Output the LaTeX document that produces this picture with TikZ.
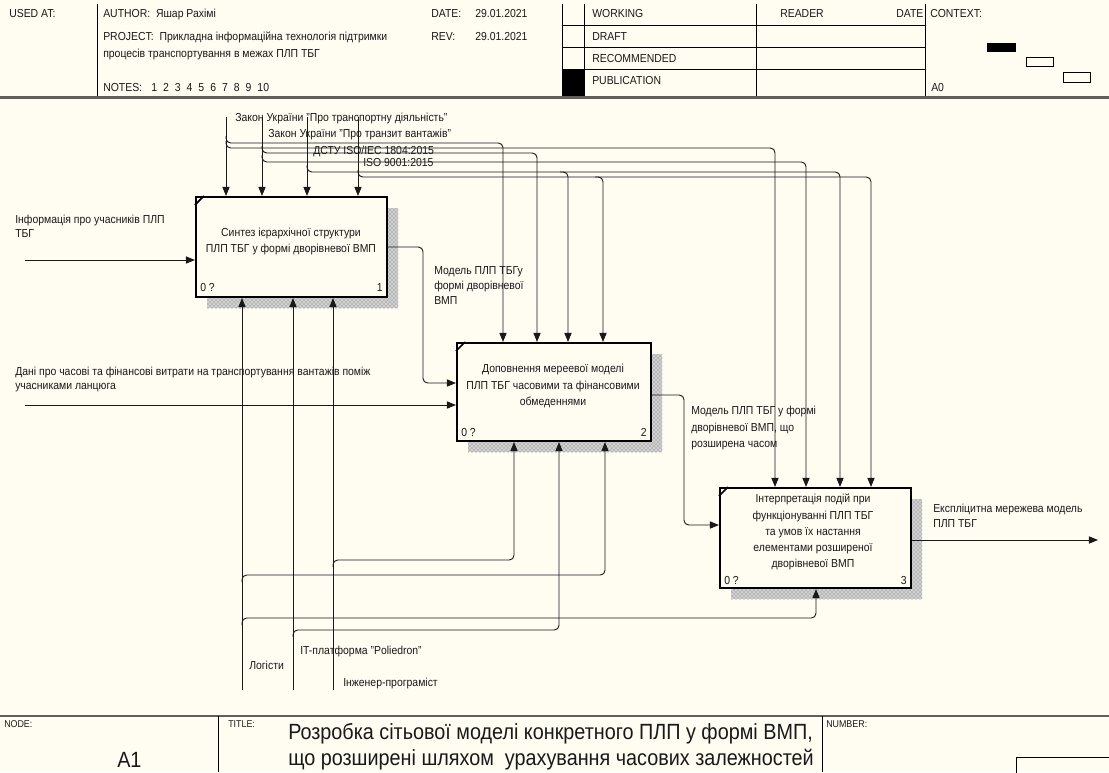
\documentclass[tikz,border=0pt]{standalone}
\usepackage{fontspec}
\setmainfont{Liberation Sans}[FakeStretch=0.9]
\usetikzlibrary{arrows.meta,patterns}
\definecolor{bg}{RGB}{255,252,242}
\definecolor{ln}{RGB}{25,25,25}
\definecolor{hdr}{RGB}{95,95,95}
\newcommand\fsm{\fontsize{8.7}{10.5}\selectfont}
\newcommand\fbig{\fontsize{16.5}{20}\selectfont}
\newcommand\fft{\fontsize{7.4}{9}\selectfont}
\begin{document}
\begin{tikzpicture}[x=0.75pt,y=-0.75pt,
  txt/.style={inner sep=0pt,anchor=base west,font=\fsm,text=ln},
  ctxt/.style={inner sep=0pt,anchor=base,font=\fsm,text=ln},
  conn/.style={draw=ln,line width=0.7pt,rounded corners=3.5pt},
  arr/.style={conn,-{Triangle[length=6.8pt,width=5.4pt]}},
  fbox/.style={draw=black,line width=1.6pt,fill=bg,inner sep=0pt},
  shadowfill/.style={fill=black!18,postaction={pattern=crosshatch dots,pattern color=black!60}},
  rule/.style={draw=black,line width=0.7pt},
  hrule/.style={draw=hdr,line width=1.6pt},
]
\useasboundingbox (0,0) rectangle (1109,772);
\fill[bg] (0,0) rectangle (1109,772);

% ---------------- header ----------------
\draw[rule] (97,4) -- (97,97);
\draw[rule] (562,4) -- (562,97);
\draw[rule] (584,4) -- (584,97);
\draw[rule] (756,4) -- (756,97);
\draw[rule] (925,4) -- (925,97);
\draw[rule] (562,25) -- (925,25);
\draw[rule] (562,47) -- (925,47);
\draw[rule] (562,69) -- (925,69);
\fill[black] (562,69) rectangle (584,97);
\draw[hrule] (0,97.5) -- (1109,97.5);

\node[txt] (usedat) at (9,17) {USED AT:};
\node[txt] (author) at (103,17) {AUTHOR:\ \ Яшар Рахімі};
\node[txt] (project) at (103,40) {PROJECT:\ \ Прикладна інформаційна технологія підтримки};
\node[txt] (project2) at (103,57) {процесів транспортування в межах ПЛП ТБГ};
\node[txt] (notes) at (103,91) {NOTES:};
\foreach \n [count=\i] in {1,...,10}
  \node[txt] (note\n) at ({151+(\i-1)*11.8},91) {\n};
\node[txt] (date) at (431,17) {DATE:};
\node[txt] (dateval) at (475,17) {29.01.2021};
\node[txt] (rev) at (431,40) {REV:};
\node[txt] (revval) at (475,40) {29.01.2021};
\node[txt] (working) at (592,17) {WORKING};
\node[txt] (draft) at (592,40) {DRAFT};
\node[txt] (recom) at (592,62) {RECOMMENDED};
\node[txt] (publ) at (592,84) {PUBLICATION};
\node[txt] (reader) at (780,17) {READER};
\node[txt] (rdate) at (896,17) {DATE};
\node[txt] (context) at (930,17) {CONTEXT:};
\node[txt] (a0) at (931,91) {A0};
\fill[black] (987,43) rectangle (1016,52);
\draw[line width=0.6pt] (1026,57) rectangle (1053,66);
\draw[line width=0.6pt] (1063,72) rectangle (1090,82);

% ---------------- footer ----------------
\draw[hrule,line width=1.2pt] (0,716) -- (1109,716);
\draw[rule] (218,716) -- (218,772);
\draw[rule] (822,716) -- (822,772);
\node[txt,font=\fft] (nodelbl) at (4,727) {NODE:};
\node[txt,font=\fft] (titlelbl) at (228,727) {TITLE:};
\node[txt,font=\fft] (numlbl) at (826,727) {NUMBER:};
\node[txt,font=\fbig] (a1) at (117,767) {A1};
\node[txt,font=\fbig] (title1) at (288,739) {Розробка сітьової моделі конкретного ПЛП у формі ВМП,};
\node[txt,font=\fbig] (title2) at (288,765) {що розширені шляхом\ \ урахування часових залежностей};
\draw[rule] (1016,780) -- (1016,757) -- (1115,757);

% ---------------- shadows ----------------
\fill[shadowfill] (207,208) rectangle (398,308);
\fill[shadowfill] (468,354) rectangle (662,452);
\fill[shadowfill] (731,499) rectangle (922,599);

% ---------------- boxes ----------------
\node[fbox,minimum width=143.25pt,minimum height=75pt] (b1) at (291.5,247) {};
\node[fbox,minimum width=145.5pt,minimum height=73.5pt] (b2) at (554,392) {};
\node[fbox,minimum width=143.25pt,minimum height=75pt] (b3) at (815.5,538) {};
\foreach \b in {b1,b2,b3}
  \draw[line width=1.2pt] ([shift={(0,9)}]\b.north west) -- ([shift={(9,0)}]\b.north west);

\node[ctxt] (b1l1) at (291,236) {Синтез ієрархічної структури};
\node[ctxt] (b1l2) at (291,252) {ПЛП ТБГ у формі дворівневої ВМП};
\node[txt] (b1n0) at (200,291) {0 ?};
\node[txt,anchor=base east] (b1n) at (383,291) {1};

\node[ctxt] (b2l1) at (553,372) {Доповнення мереевої моделі};
\node[ctxt] (b2l2) at (553,389) {ПЛП ТБГ часовими та фінансовими};
\node[ctxt] (b2l3) at (553,405) {обмеденнями};
\node[txt] (b2n0) at (461,436) {0 ?};
\node[txt,anchor=base east] (b2n) at (647,436) {2};

\node[ctxt] (b3l1) at (813,502) {Інтерпретація подій при};
\node[ctxt] (b3l2) at (813,519) {функціонуванні ПЛП ТБГ};
\node[ctxt] (b3l3) at (813,535) {та умов їх настання};
\node[ctxt] (b3l4) at (813,551) {елементами розширеної};
\node[ctxt] (b3l5) at (813,567) {дворівневої ВМП};
\node[txt] (b3n0) at (724,584) {0 ?};
\node[txt,anchor=base east] (b3n) at (907,584) {3};

% ---------------- controls ----------------
\coordinate (law1) at (226,117);
\coordinate (law2) at (262,117);
\coordinate (dstu) at (307,117);
\coordinate (iso) at (358,117);
\node[txt] (law1l) at (235,121) {Закон України "Про транспортну діяльність"};
\node[txt] (law2l) at (268,137) {Закон України "Про транзит вантажів"};
\node[txt] (dstul) at (313,154) {ДСТУ ISO/IEC 1804:2015};
\node[txt] (isol) at (363,166) {ISO 9001:2015};

\foreach \c in {law1,law2,dstu,iso}
  \draw[arr] (\c) -- (\c |- b1.north);

\draw[arr] (226,136) -- (226,143) -- (503,143) -- (503,0 |- b2.north);
\draw[arr] (226,141) -- (226,148) -- (775,148) -- (775,0 |- b3.north);
\draw[arr] (262,146) -- (262,153) -- (537,153) -- (537,0 |- b2.north);
\draw[arr] (262,155) -- (262,162) -- (806,162) -- (806,0 |- b3.north);
\draw[arr] (307,165) -- (307,172) -- (840,172) -- (840,0 |- b3.north);
\draw[arr] (560,172) -- (568,172) -- (568,0 |- b2.north);
\draw[arr] (358,170) -- (358,177) -- (871,177) -- (871,0 |- b3.north);
\draw[arr] (595,177) -- (603,177) -- (603,0 |- b2.north);

% ---------------- inputs / outputs ----------------
\coordinate (in1) at (25,260);
\coordinate (in2) at (25,405);
\coordinate (out3) at (1098,540);
\node[txt] (in1l1) at (15,223) {Інформація про учасників ПЛП};
\node[txt] (in1l2) at (15,237) {ТБГ};
\node[txt] (in2l1) at (15,375) {Дані про часові та фінансові витрати на транспортування вантажів поміж};
\node[txt] (in2l2) at (15,389) {учасниками ланцюга};
\draw[arr] (in1) -- (in1 -| b1.west);
\draw[arr] (in2) -- (in2 -| b2.west);

\draw[arr] (b1.east) -- (423,247) -- (423,383) -- (b2.west |- 0,383);
\node[txt] (o1l1) at (434,274) {Модель ПЛП ТБГу};
\node[txt] (o1l2) at (434,289) {формі дворівневої};
\node[txt] (o1l3) at (434,304) {ВМП};

\draw[arr] (b2.east |- 0,395) -- (684,395) -- (684,525) -- (b3.west |- 0,525);
\node[txt] (o2l1) at (691,414) {Модель ПЛП ТБГ у формі};
\node[txt] (o2l2) at (691,431) {дворівневої ВМП, що};
\node[txt] (o2l3) at (691,447) {розширена часом};

\draw[arr] (b3.east |- out3) -- (out3);
\node[txt] (o3l1) at (933,512) {Експліцитна мережева модель};
\node[txt] (o3l2) at (933,527) {ПЛП ТБГ};

% ---------------- mechanisms ----------------
\coordinate (m1) at (242,690);
\coordinate (m2) at (293,690);
\coordinate (m3) at (333,690);
\node[txt] (m1l) at (249,669) {Логісти};
\node[txt] (m2l) at (300,654) {IT-платформа "Poliedron"};
\node[txt] (m3l) at (343,686) {Інженер-програміст};
\foreach \m in {m1,m2,m3}
  \draw[arr] (\m) -- (\m |- b1.south);

\draw[arr] (333,567) -- (333,560) -- (514,560) -- (514,0 |- b2.south);
\draw[arr] (242,582) -- (242,575) -- (605,575) -- (605,0 |- b2.south);
\draw[arr] (242,625) -- (242,618) -- (816,618) -- (816,0 |- b3.south);
\draw[arr] (293,637) -- (293,630) -- (559,630) -- (559,0 |- b2.south);
\end{tikzpicture}
\end{document}
